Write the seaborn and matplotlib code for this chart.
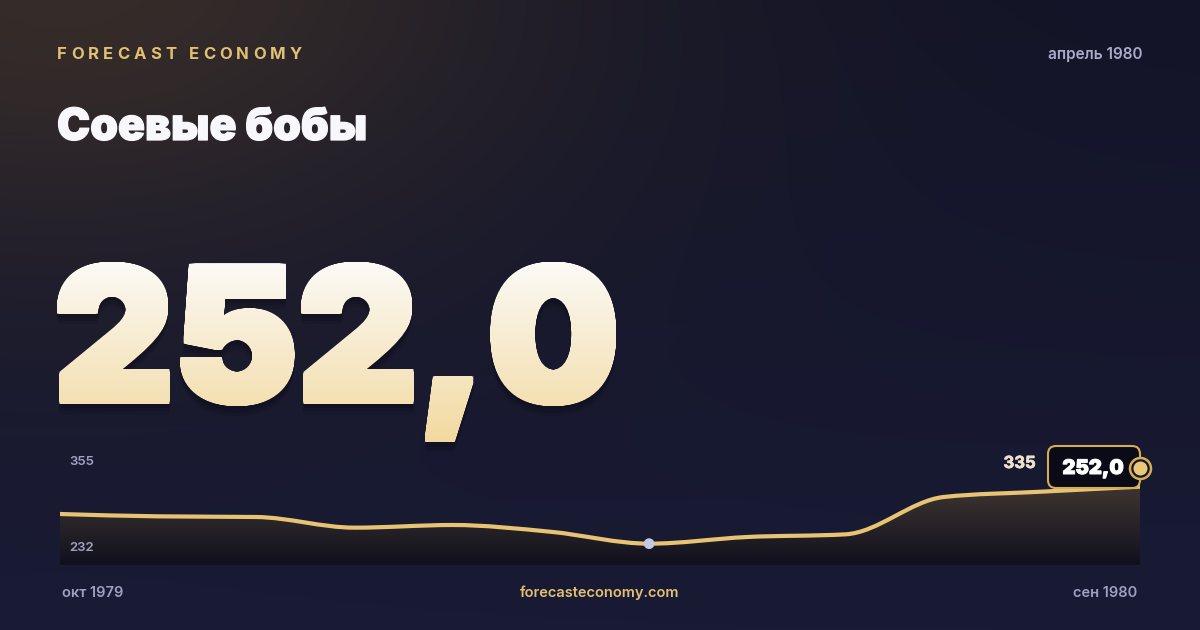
import numpy as np
import pandas as pd
import seaborn as sns
import matplotlib
matplotlib.use("Agg")
import matplotlib.pyplot as plt
import matplotlib.patheffects as pe
from matplotlib.path import Path
from matplotlib.patches import PathPatch, FancyBboxPatch, Circle
from matplotlib.textpath import TextPath, text_to_path
from matplotlib.font_manager import FontProperties
from matplotlib.transforms import Affine2D
from matplotlib.colors import to_rgb

# data
months = ["окт 1979", "ноя 1979", "дек 1979", "янв 1980", "фев 1980", "мар 1980",
          "апр 1980", "май 1980", "июн 1980", "июл 1980", "авг 1980", "сен 1980"]
prices = [276.5, 273.0, 272.0, 256.0, 260.0, 249.8, 232.0, 242.0, 246.0, 302.0, 310.0, 317.5]
highlight_month = "апр 1980"
y_ticks = [355, 232]
y_tick_labels = ["355", "232"]

brand = "FORECAST ECONOMY"
period = "апрель 1980"
title = "Соевые бобы"
headline = "252,0"
badge_text = "252,0"
prev_text = "335"
site = "forecasteconomy.com"

GOLD = "#e8c374"
MUTED = "#9ea1c0"
W, H = 1200, 630

sns.set_theme(style="dark")
plt.rcParams["font.family"] = ["Inter", "DejaVu Sans"]

df = pd.DataFrame({"month": months, "price": prices})
df["i"] = np.arange(len(df))

fig = plt.figure(figsize=(12, 6.3), dpi=100)

# background in pixel coordinates
bg = fig.add_axes([0, 0, 1, 1])
bg.set_axis_off()
yy, xx = np.mgrid[0:H, 0:W]
top = np.array(to_rgb("#131427"))
bot = np.array(to_rgb("#191b35"))
t = (yy / H)[..., None]
img = top * (1 - t) + bot * t
glow = np.exp(-(((xx - 60) / 520.0) ** 2 + ((yy + 30) / 300.0) ** 2))[..., None]
img = img * (1 - 0.8 * glow) + np.array(to_rgb("#3f332a")) * 0.8 * glow
bg.imshow(img, extent=(0, W, H, 0), aspect="auto", zorder=0)
bg.set_xlim(0, W)
bg.set_ylim(H, 0)


def spaced_text(ax, x, y, s, width, size, color, weight):
    prop = FontProperties(family="Inter", size=size, weight=weight)
    ws = [text_to_path.get_text_width_height_descent(c, prop, ismath=False)[0] * 100 / 72 for c in s]
    gap = (width - sum(ws)) / (len(s) - 1)
    for c, w in zip(s, ws):
        ax.text(x, y, c, fontproperties=prop, color=color, va="baseline", ha="left")
        x += w + gap


def heavy(lw, color):
    return [pe.withStroke(linewidth=lw, foreground=color)]


spaced_text(bg, 57, 59, brand, 245, 12, "#e2c073", "bold")
bg.text(1143, 59, period, ha="right", va="baseline", fontsize=11, color="#a9abc9", fontweight="semibold")
bg.text(57, 140, title, ha="left", va="baseline", fontsize=32, color="#f8f8fc", fontweight="black",
        path_effects=heavy(0.9, "#f8f8fc"))

# big headline with vertical gradient
prop_big = FontProperties(family="Inter", weight="black")
tp = TextPath((0, 0), headline, size=100, prop=prop_big)
ext = tp.get_extents()
grow = 3.0
sx = (616 - 57 - 2 * grow) / (ext.x1 - ext.x0)
sy = (404 - 262 - 2 * grow) / TextPath((0, 0), "2", size=100, prop=prop_big).get_extents().y1
tr = Affine2D().translate(-ext.x0, 0).scale(sx, -sy).translate(57 + grow, 404 - grow)
base_path = tr.transform_path(tp)
# thicken the glyphs: union of the outline shifted over a small square (keeps corners sharp)
offs = np.linspace(-grow, grow, 5)
shifts = [(dx, dy) for dx in offs for dy in offs]
big_path = Path.make_compound_path(*[Affine2D().translate(dx, dy).transform_path(base_path) for dx, dy in shifts])
for k, a in [(10, 0.10), (7, 0.12), (4, 0.15)]:
    sh = Affine2D().translate(0, k).transform_path(big_path)
    bg.add_patch(PathPatch(sh, facecolor="#05060d", edgecolor="none", alpha=a, zorder=1))
grad = np.linspace(0, 1, 200)[:, None, None]
gimg = np.array(to_rgb("#fcfbf8")) * (1 - grad) + np.array(to_rgb("#f2d9a0")) * grad
gimg = np.repeat(gimg, 2, axis=1)
clip = PathPatch(big_path, transform=bg.transData, facecolor="none", edgecolor="none")
bg.add_patch(clip)
gi = bg.imshow(gimg, extent=(50, 625, 442, 258), aspect="auto", zorder=2)
gi.set_clip_path(clip)
bg.set_xlim(0, W)
bg.set_ylim(H, 0)

bg.text(62, 597, months[0], ha="left", va="baseline", fontsize=10.5, color=MUTED, fontweight="semibold")
bg.text(600, 597, site, ha="center", va="baseline", fontsize=10.5, color="#e2c073", fontweight="semibold")
bg.text(1137, 597, months[-1], ha="right", va="baseline", fontsize=10.5, color=MUTED, fontweight="semibold")

# chart
ax = fig.add_axes([60 / W, 65 / H, 1080 / W, 120 / H])
ax.set_xlim(0, len(months) - 1)
ax.set_ylim(200, 380)
ax.set_axis_off()
ax.patch.set_alpha(0)


def monotone_path(xs, ys, base=None):
    xs = np.asarray(xs, float)
    ys = np.asarray(ys, float)
    h = np.diff(xs)
    d = np.diff(ys) / h
    m = np.zeros_like(ys)
    for i in range(1, len(ys) - 1):
        p = (d[i - 1] * h[i] + d[i] * h[i - 1]) / (h[i - 1] + h[i])
        m[i] = (np.sign(d[i - 1]) + np.sign(d[i])) * min(abs(d[i - 1]), abs(d[i]), 0.5 * abs(p))
    m[0] = (3 * d[0] - m[1]) / 2
    m[-1] = (3 * d[-1] - m[-2]) / 2
    verts = [(xs[0], ys[0])]
    codes = [Path.MOVETO]
    for i in range(len(xs) - 1):
        verts += [(xs[i] + h[i] / 3, ys[i] + m[i] * h[i] / 3),
                  (xs[i + 1] - h[i] / 3, ys[i + 1] - m[i + 1] * h[i] / 3),
                  (xs[i + 1], ys[i + 1])]
        codes += [Path.CURVE4] * 3
    if base is not None:
        verts += [(xs[-1], base), (xs[0], base), (xs[0], ys[0])]
        codes += [Path.LINETO, Path.LINETO, Path.CLOSEPOLY]
    return Path(verts, codes)


area = PathPatch(monotone_path(df["i"], df["price"], base=200), facecolor="none", edgecolor="none",
                 transform=ax.transData)
ax.add_patch(area)
fill = np.linspace(0, 1, 120)[:, None, None]
fimg = np.array(to_rgb("#56493a")) * (1 - fill) + np.array(to_rgb("#10101e")) * fill
fimg = np.repeat(fimg, 2, axis=1)
fi = ax.imshow(fimg, extent=(0, len(months) - 1, 200, 380), aspect="auto", origin="upper", zorder=1)
fi.set_clip_path(area)
ax.add_patch(PathPatch(monotone_path(df["i"], df["price"]), facecolor="none", edgecolor=GOLD,
                       lw=3, capstyle="round", joinstyle="round", zorder=3))
sns.scatterplot(data=df[df["month"] == highlight_month], x="i", y="price", ax=ax, s=60,
                color="#c4c7e0", edgecolor="none", zorder=4, legend=False)
ax.set_xlim(0, len(months) - 1)
ax.set_ylim(200, 380)
ax.set_axis_off()
for v, lab in zip(y_ticks, y_tick_labels):
    ax.annotate(lab, (0, v), xytext=(7, 0 if v > 300 else -3), textcoords="offset points",
                ha="left", va="center", fontsize=9.5, color=MUTED, fontweight="semibold")

# overlay: badge and end marker
ov = fig.add_axes([0, 0, 1, 1])
ov.set_axis_off()
ov.patch.set_alpha(0)
ov.set_xlim(0, W)
ov.set_ylim(H, 0)
ov.add_patch(FancyBboxPatch((1048, 446), 92, 42, boxstyle="round,pad=0,rounding_size=8",
                            facecolor="#0a0b17", edgecolor="#d6ad52", lw=1.5))
ov.text(1093, 474, badge_text, ha="center", va="baseline", fontsize=14.5, color="white", fontweight="black",
        path_effects=heavy(0.7, "white"))
ov.text(1036, 468, prev_text, ha="right", va="baseline", fontsize=12, color="#ede3cc", fontweight="bold",
        path_effects=heavy(0.5, "#ede3cc"))
ov.add_patch(Circle((1140.5, 468.5), 10.5, facecolor="#15162a", edgecolor="#d6ad52", lw=1.8))
ov.add_patch(Circle((1140.5, 468.5), 7, facecolor="#e8c87a", edgecolor="none"))

fig.savefig("out.png", dpi=100)
